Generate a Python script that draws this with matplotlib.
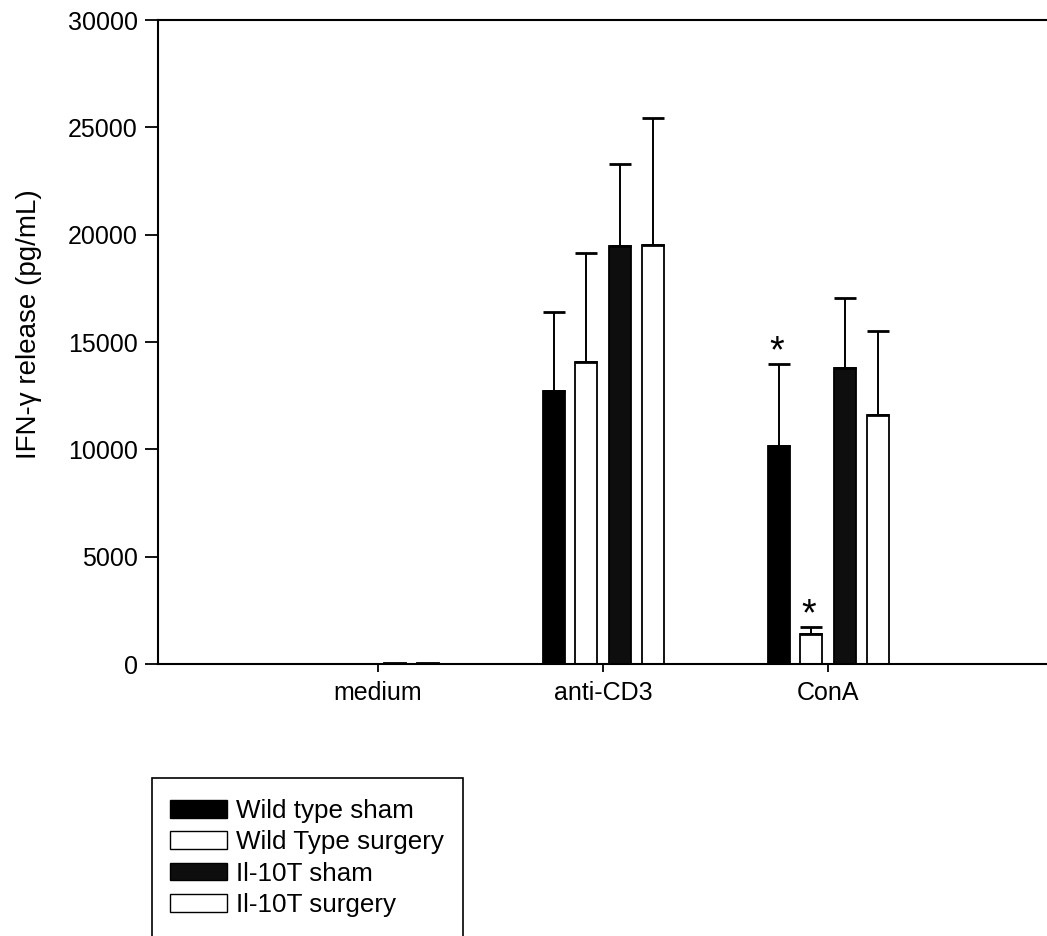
import matplotlib
matplotlib.use("Agg")
import matplotlib.pyplot as plt
from matplotlib.patches import Rectangle
import numpy as np

categories = ["medium", "anti-CD3", "ConA"]
series = ["Wild type sham", "Wild Type surgery", "Il-10T sham", "Il-10T surgery"]
values = {
    "Wild type sham":    [0, 12700, 10150],
    "Wild Type surgery": [0, 14070, 1400],
    "Il-10T sham":       [60, 19470, 13790],
    "Il-10T surgery":    [50, 19520, 11600],
}
errors = {
    "Wild type sham":    [0, 3700, 3830],
    "Wild Type surgery": [0, 5080, 320],
    "Il-10T sham":       [0, 3820, 3260],
    "Il-10T surgery":    [0, 5910, 3910],
}
stars = {("Wild type sham", 2), ("Wild Type surgery", 2)}
yticks = [0, 5000, 10000, 15000, 20000, 25000, 30000]

colors = ["#000000", "#ffffff", "#0e0e0e", "#ffffff"]
offsets = [-0.22, -0.075, 0.075, 0.22]
width = 0.098

plt.rcParams["font.family"] = ["Liberation Sans", "DejaVu Sans"]
fig = plt.figure(figsize=(10.47, 9.36), dpi=100)
ax = fig.add_axes([158/1047, 1-664/936, 1-158/1047, (664-20)/936])

x = np.arange(1, len(categories)+1)
for i, s in enumerate(series):
    xs = x + offsets[i]
    v = np.array(values[s], dtype=float)
    e = np.array(errors[s], dtype=float)
    ax.bar(xs, v, width=width, color=colors[i], edgecolor="black", linewidth=1.3, zorder=2)
    mask = e > 0
    ax.errorbar(xs[mask], v[mask], yerr=[np.zeros(mask.sum()), e[mask]], fmt="none",
                ecolor="black", elinewidth=1.4, capsize=7.9, capthick=2.0, zorder=3)
    for j in range(len(categories)):
        if (s, j) in stars:
            ax.text(xs[j] - 0.01, v[j] + e[j] + 80, "*", ha="center", va="baseline",
                    fontsize=27)

ax.set_xlim(0.022, 3.973)
ax.set_ylim(0, 30000)
ax.set_xticks(x)
ax.set_xticklabels(categories, fontsize=18)
ax.set_yticks(yticks)
ax.set_yticklabels([str(t) for t in yticks], fontsize=18)
ax.tick_params(axis="y", direction="out", length=9.5, width=1.3, pad=5)
ax.tick_params(axis="x", direction="out", length=6, width=1.3, pad=6)
ax.spines["right"].set_visible(False)
for sp in ["left", "bottom", "top"]:
    ax.spines[sp].set_linewidth(1.5)
ax.set_ylabel("IFN-γ release (pg/mL)", fontsize=20, labelpad=14)
ax.yaxis.set_label_coords(-0.1305, 0.528)

handles = [Rectangle((0, 0), 1, 1, facecolor=colors[i], edgecolor="black", linewidth=1.0)
           for i in range(len(series))]
fig.legend(handles, series, loc="upper left",
           bbox_to_anchor=(170/1047, 1-799/936), frameon=False, fontsize=18.7,
           handlelength=2.2, handleheight=0.68, handletextpad=0.35,
           labelspacing=0.28, borderpad=0, borderaxespad=0)
fig.patches.append(Rectangle((152/1047, -0.05), (463-152)/1047, 0.05 + 1-778/936,
                             transform=fig.transFigure, fill=False, edgecolor="black",
                             linewidth=1.2, clip_on=False))

fig.savefig("out.png", dpi=100)
